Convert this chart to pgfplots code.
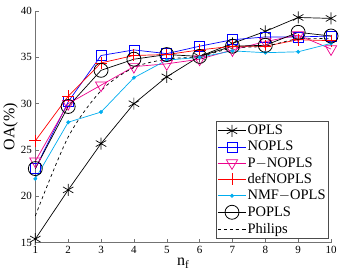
\documentclass[border=0pt]{standalone}
\usepackage{pgfplots}
\pgfplotsset{compat=1.18}
\usepackage{fontspec}
\setmainfont{Liberation Serif}
\usetikzlibrary{plotmarks}
\begin{document}
\begin{tikzpicture}
\begin{axis}[
  scale only axis,
  width=296pt, height=232pt,
  xmin=1, xmax=10, ymin=15, ymax=40,
  xtick={1,...,10}, ytick={15,20,25,30,35,40},
  axis x line*=bottom, axis y line*=left,
  axis line style={draw=black!55, line width=0.6pt, -},
  tick style={draw=black!55, line width=0.5pt},
  tick align=inside,
  major tick length=4pt,
  /pgf/number format/assume math mode=true,
  tick label style={font=\fontsize{11}{11}\selectfont},
  xlabel={n$_\mathrm{f}$},
  ylabel={OA(\%)},
  label style={font=\fontsize{16}{16}\selectfont},
  xlabel style={at={(axis description cs:0.5,0)}, anchor=north, yshift=-12pt},
  ylabel style={at={(axis description cs:0,0.5)}, anchor=south, yshift=14pt},
  clip=false,
  legend style={at={(0.99,0.017)}, anchor=south east, draw=black!70, line width=0.7pt,
    outer sep=0pt,
    font=\fontsize{14.5}{14.5}\selectfont, row sep=3pt, inner xsep=1.5pt, inner ysep=3pt,
    nodes={inner sep=1pt},
    cells={anchor=west}},
  legend image code/.code={
    \draw[mark repeat=2,mark phase=2] plot coordinates {(0cm,0cm) (0.5cm,0cm) (1cm,0cm)};
  },
]
\addplot[black, line width=0.7pt, mark=asterisk, mark size=6pt, mark options={line width=0.7pt}] coordinates {
(1,15.4) (2,20.7) (3,25.7) (4,30.0) (5,32.9) (6,35.1) (7,36.5) (8,37.8) (9,39.3) (10,39.2)};
\addlegendentry{OPLS}
\addplot[blue, line width=0.7pt, mark=square, mark size=5pt, mark options={line width=0.7pt}] coordinates {
(1,23.0) (2,30.2) (3,35.2) (4,35.8) (5,35.4) (6,36.2) (7,36.9) (8,37.2) (9,37.2) (10,37.3)};
\addlegendentry{NOPLS}
\addplot[magenta, line width=0.7pt, mark=triangle, mark size=6.5pt, mark options={rotate=180, line width=0.7pt}] coordinates {
(1,23.8) (2,30.0) (3,32.0) (4,34.0) (5,34.3) (6,34.8) (7,35.8) (8,36.7) (9,37.4) (10,35.9)};
\addlegendentry{P$-$NOPLS}
\addplot[red, line width=0.7pt, mark=+, mark size=6pt, mark options={line width=0.8pt}] coordinates {
(1,26.0) (2,30.8) (3,34.4) (4,35.2) (5,35.3) (6,35.8) (7,36.2) (8,36.2) (9,36.9) (10,36.8)};
\addlegendentry{defNOPLS}
\addplot[cyan, line width=0.7pt, mark=*, mark size=1.6pt] coordinates {
(1,21.9) (2,28.0) (3,29.1) (4,32.8) (5,34.7) (6,35.0) (7,35.7) (8,35.5) (9,35.6) (10,36.5)};
\addlegendentry{NMF$-$OPLS}
\addplot[black, line width=0.7pt, mark=o, mark size=7pt, mark options={line width=0.8pt}] coordinates {
(1,23.0) (2,29.7) (3,33.6) (4,34.8) (5,35.3) (6,35.1) (7,36.2) (8,36.3) (9,37.7) (10,37.3)};
\addlegendentry{POPLS}
\addplot[black, line width=0.7pt, dashed, smooth] coordinates {
(1,17.9) (2,26.4) (3,31.4) (4,33.9) (5,34.8) (6,35.1) (7,36.0) (8,36.2) (9,37.0) (10,37.0)};
\addlegendentry{Philips}
\end{axis}
\path[use as bounding box] (current axis.origin) ++(-35pt,-34pt) rectangle ++(346pt,277pt);
\end{tikzpicture}
\end{document}
